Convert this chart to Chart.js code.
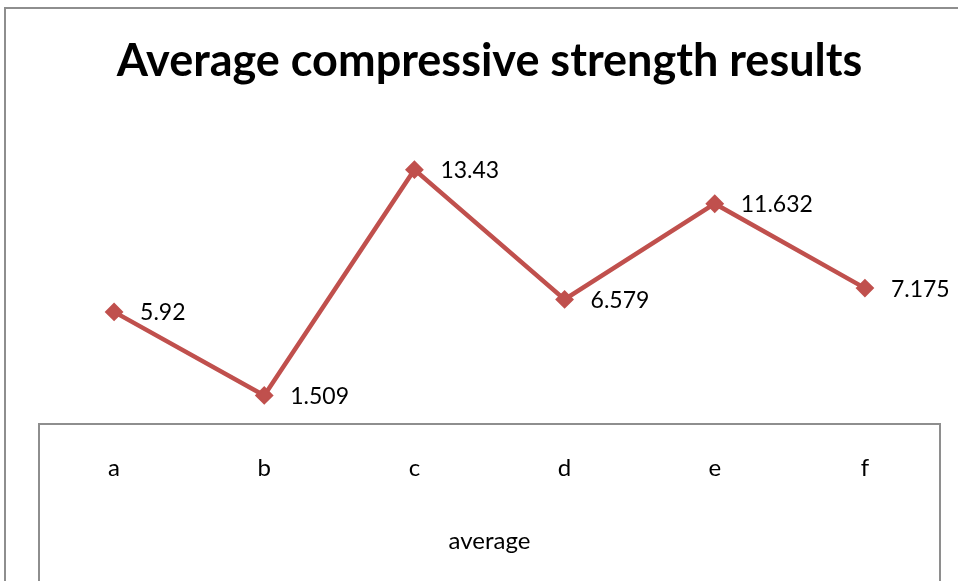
<!DOCTYPE html>
<html>
<head>
<meta charset="utf-8">
<script src="https://cdn.jsdelivr.net/npm/chart.js@4/dist/chart.umd.min.js"></script>
<style>
    html, body { margin: 0; padding: 0; background: #ffffff; }
    #wrap { width: 958px; height: 581px; position: relative; }
</style>
</head>
<body>
<div id="wrap"><canvas id="strengthChart"></canvas></div>
<script>
// --- Chart data ---
const categories = ['a', 'b', 'c', 'd', 'e', 'f'];
const averageValues = [5.92, 1.509, 13.43, 6.579, 11.632, 7.175];
const valueLabels = ['5.92', '1.509', '13.43', '6.579', '11.632', '7.175'];

const seriesColor = '#c0504d';
const frameColor = '#8e8e8e';
const fontFamily = 'Lato, "Open Sans", sans-serif';

// Outer chart border plus the category box under the plot
const framePlugin = {
    id: 'frame',
    beforeDraw(chart) {
        const { ctx, chartArea } = chart;
        ctx.save();
        ctx.strokeStyle = frameColor;
        ctx.lineWidth = 2;
        ctx.strokeRect(5, 8, chart.width + 20, chart.height + 20);

        ctx.beginPath();
        ctx.moveTo(chartArea.left, chart.height + 5);
        ctx.lineTo(chartArea.left, chartArea.bottom);
        ctx.lineTo(chartArea.right, chartArea.bottom);
        ctx.lineTo(chartArea.right, chart.height + 5);
        ctx.stroke();
        ctx.restore();
    }
};

// Value labels to the right of each marker
const valueLabelPlugin = {
    id: 'valueLabels',
    afterDatasetsDraw(chart) {
        const { ctx } = chart;
        const meta = chart.getDatasetMeta(0);
        ctx.save();
        ctx.font = '23px ' + fontFamily;
        ctx.fillStyle = '#000000';
        ctx.textAlign = 'left';
        ctx.textBaseline = 'middle';
        meta.data.forEach((pt, i) => {
            ctx.fillText(valueLabels[i], pt.x + 26, pt.y + 1);
        });
        ctx.restore();
    }
};

const ctx = document.getElementById('strengthChart').getContext('2d');

const strengthChart = new Chart(ctx, {
    type: 'line',
    data: {
        labels: categories,
        datasets: [{
            label: 'average',
            data: averageValues,
            borderColor: seriesColor,
            backgroundColor: seriesColor,
            borderWidth: 4.5,
            tension: 0,
            pointStyle: 'rectRot',
            pointRadius: 8,
            pointBorderWidth: 2,
            pointBackgroundColor: seriesColor,
            pointBorderColor: seriesColor
        }]
    },
    options: {
        responsive: true,
        maintainAspectRatio: false,
        animation: false,
        layout: {
            padding: { left: 39, right: 18, top: 0, bottom: 0 }
        },
        scales: {
            x: {
                offset: true,
                grid: { display: false },
                border: { display: false },
                ticks: {
                    color: '#000000',
                    font: { family: fontFamily, size: 24 },
                    padding: 22
                },
                title: {
                    display: true,
                    text: 'average',
                    color: '#000000',
                    font: { family: fontFamily, size: 24 },
                    padding: { top: 0, bottom: 25 }
                },
                afterFit(scale) {
                    scale.height = 157;
                }
            },
            y: {
                display: false,
                min: 0,
                max: 16
            }
        },
        plugins: {
            legend: { display: false },
            tooltip: { enabled: false },
            title: {
                display: true,
                text: 'Average compressive strength results',
                color: '#000000',
                font: { family: fontFamily, size: 45, weight: 'bold' },
                padding: { top: 34, bottom: 33 }
            }
        }
    },
    plugins: [framePlugin, valueLabelPlugin]
});
</script>
</body>
</html>
